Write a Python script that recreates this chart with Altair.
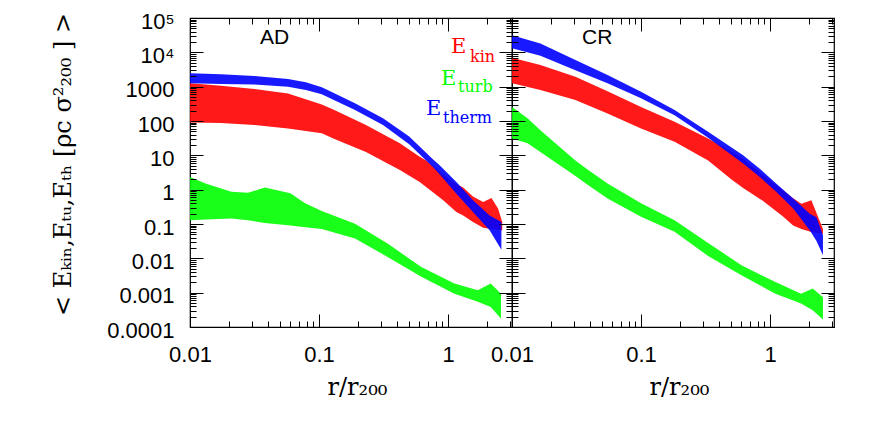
import altair as alt
import pandas as pd

# ---------------- data ----------------
# AD panel
ad_blue_x  = [0.01, 0.0174, 0.0316, 0.0575, 0.079, 0.105, 0.129, 0.19, 0.313, 0.5, 0.766, 0.86, 1.16, 1.56, 2.1, 2.59]
ad_blue_hi = [2450, 2290, 2040, 1660, 1350, 955, 661, 331, 120, 35.5, 7.6, 5.13, 1.66, 0.49, 0.178, 0.115]
ad_blue_lo = [1260, 1200, 1150, 1000, 794, 603, 417, 209, 76, 20.9, 4.47, 2.82, 0.76, 0.224, 0.066, 0.0178]

ad_red_x  = [0.01, 0.0174, 0.0316, 0.0575, 0.105, 0.129, 0.231, 0.423, 0.603, 0.676, 0.912, 1.16, 1.31, 1.56, 1.87, 2.17, 2.44, 2.63]
ad_red_hi = [1260, 1070, 850, 630, 300, 215, 76, 22.4, 9.1, 7.1, 2.82, 1.45, 1.15, 0.63, 0.437, 0.575, 0.282, 0.115]
ad_red_lo = [91, 87, 76, 60, 44, 30.9, 12.6, 3.72, 1.66, 1.2, 0.5, 0.224, 0.178, 0.115, 0.078, 0.071, 0.068, 0.065]

ad_green_x  = [0.01, 0.0132, 0.0209, 0.0282, 0.038, 0.06, 0.078, 0.105, 0.19, 0.34, 0.62, 1.12, 1.7, 2.14, 2.57]
ad_green_hi = [2.34, 1.51, 0.87, 0.81, 1.15, 0.78, 0.40, 0.24, 0.102, 0.0269, 0.0056, 0.00186, 0.00117, 0.00186, 0.00093]
ad_green_lo = [0.129, 0.135, 0.145, 0.129, 0.107, 0.091, 0.081, 0.071, 0.038, 0.011, 0.0029, 0.00093, 0.00054, 0.00038, 0.000178]

# CR panel
cr_blue_x  = [0.01, 0.0166, 0.031, 0.055, 0.1, 0.182, 0.331, 0.618, 0.832, 1.12, 1.51, 2.03, 2.29, 2.57]
cr_blue_hi = [31600, 18200, 6030, 2190, 708, 209, 49, 10, 4.07, 1.48, 0.55, 0.2, 0.158, 0.047]
cr_blue_lo = [13200, 7940, 3020, 1260, 457, 148, 32.4, 5.75, 2.34, 0.85, 0.282, 0.066, 0.032, 0.0123]

cr_red_x  = [0.01, 0.0166, 0.031, 0.055, 0.1, 0.182, 0.331, 0.5, 0.618, 0.883, 1.26, 1.51, 1.75, 2.09, 2.57]
cr_red_hi = [6920, 4270, 1950, 741, 257, 95.5, 30.9, 13, 7.94, 2.63, 0.955, 0.56, 0.39, 0.49, 0.072]
cr_red_lo = [1260, 794, 407, 166, 60, 25, 7.1, 2.0, 1.12, 0.47, 0.166, 0.091, 0.071, 0.058, 0.052]

cr_green_x  = [0.01, 0.0132, 0.0166, 0.031, 0.039, 0.055, 0.1, 0.182, 0.331, 0.6, 1.1, 1.74, 2.14, 2.57]
cr_green_hi = [257, 120, 53.7, 7.08, 3.72, 1.51, 0.40, 0.129, 0.0282, 0.0063, 0.00204, 0.00093, 0.00132, 0.00074]
cr_green_lo = [30.9, 22.4, 12.6, 2.51, 1.35, 0.55, 0.162, 0.059, 0.0117, 0.0032, 0.00093, 0.00048, 0.00031, 0.000166]

# tick values / labels
x_major = [0.01, 0.1, 1]
x_minor = [k * 10.0 ** d for d in (-2, -1) for k in range(2, 10)] + [2, 3]
y_major = [1e-4, 1e-3, 1e-2, 1e-1, 1, 10, 100, 1000, 1e4, 1e5]
y_minor = [k * 10.0 ** d for d in range(-4, 5) for k in range(2, 10)]

panel_names = ["AD", "CR"]
legend_subs = ["kin", "turb", "therm"]
COL = {"green": "#00ff00", "red": "#ff0000", "blue": "#0000ff"}

x_title = "r/r₂₀₀"
y_title = "< Eₖᵢₙ,Eₜᵤ,Eₜₕ  [ρc  σ²₂₀₀ ] >"

W, H = 322, 309
XMAX = 3.13


def df(x, hi, lo):
    return pd.DataFrame({"x": x, "hi": hi, "lo": lo})


def panel(blue, red, green, name, first):
    xs = alt.Scale(type="log", domain=[0.01, XMAX], nice=False)
    ys = alt.Scale(type="log", domain=[1e-4, 1e5], nice=False)
    common = dict(domain=False, grid=False, zindex=1, tickColor="black", tickWidth=1)

    xb_major = alt.Axis(orient="bottom", values=x_major, format="~g", labelFlush=False,
                        labelOverlap=False, tickSize=13, offset=-13, labelPadding=17,
                        title=x_title, titlePadding=10, titleFontSize=24, titleX=W / 2 + 6, **common)
    xb_minor = alt.Axis(orient="bottom", values=x_minor, labels=False, tickSize=6, offset=-6,
                        title=None, **common)
    xt_major = alt.Axis(orient="top", values=x_major, labels=False, tickSize=13, offset=-13,
                        title=None, **common)
    xt_minor = alt.Axis(orient="top", values=x_minor, labels=False, tickSize=6, offset=-6,
                        title=None, **common)

    ylab = dict(format="~g",
                labelExpr="datum.value >= 99999 ? '10⁵' : (datum.value >= 9999 ? '10⁴' : datum.label)",
                labelPadding=16, labelOffset=3, labelOverlap=False, labelFlush=False)
    if first:
        yl_major = alt.Axis(orient="left", values=y_major, tickSize=13, offset=-13,
                            title=y_title, titlePadding=31, titleFontSize=24, titleY=146,
                            **ylab, **common)
    else:
        yl_major = alt.Axis(orient="left", values=y_major, labels=False, tickSize=13, offset=-13,
                            title=None, **common)
    yl_minor = alt.Axis(orient="left", values=y_minor, labels=False, tickSize=6, offset=-6,
                        title=None, **common)
    yr_major = alt.Axis(orient="right", values=y_major, labels=False, tickSize=13, offset=-13,
                        title=None, **common)
    yr_minor = alt.Axis(orient="right", values=y_minor, labels=False, tickSize=6, offset=-6,
                        title=None, **common)

    def area(d, color, xa, ya, opacity=0.9):
        return alt.Chart(d).mark_area(color=color, opacity=opacity, interpolate="linear").encode(
            x=alt.X("x:Q", scale=xs, axis=xa),
            y=alt.Y("hi:Q", scale=ys, axis=ya),
            y2="lo:Q",
        )

    layers = [
        area(green, COL["green"], xb_major, yl_major),
        area(red, COL["red"], xb_minor, yl_minor),
        area(blue, COL["blue"], xt_major, yr_major),
        area(blue, COL["blue"], xt_minor, yr_minor, opacity=0),
        alt.Chart(pd.DataFrame({"t": [name]})).mark_text(
            font="Liberation Sans", fontSize=21, align="left", baseline="alphabetic", color="black"
        ).encode(text="t:N", x=alt.value(70), y=alt.value(26)),
    ]
    if first:
        e_pos = [(261, 35), (251, 67), (236, 97)]
        s_pos = [(280, 44), (268, 74), (253, 105)]
        cols = [COL["red"], COL["green"], COL["blue"]]
        for (ex, ey), (sx, sy), c, s in zip(e_pos, s_pos, cols, legend_subs):
            layers.append(alt.Chart(pd.DataFrame({"t": ["E"]})).mark_text(
                font="DejaVu Serif", fontSize=21, align="left", baseline="alphabetic", color=c
            ).encode(text="t:N", x=alt.value(ex), y=alt.value(ey)))
            layers.append(alt.Chart(pd.DataFrame({"t": [s]})).mark_text(
                font="DejaVu Serif", fontSize=16, align="left", baseline="alphabetic", color=c
            ).encode(text="t:N", x=alt.value(sx), y=alt.value(sy)))

    return alt.layer(*layers).resolve_axis(x="independent", y="independent").properties(width=W, height=H)


left = panel(df(ad_blue_x, ad_blue_hi, ad_blue_lo), df(ad_red_x, ad_red_hi, ad_red_lo),
             df(ad_green_x, ad_green_hi, ad_green_lo), panel_names[0], True)
right = panel(df(cr_blue_x, cr_blue_hi, cr_blue_lo), df(cr_red_x, cr_red_hi, cr_red_lo),
              df(cr_green_x, cr_green_hi, cr_green_lo), panel_names[1], False)

chart = alt.hconcat(left, right, spacing=0, bounds="flush").properties(
    padding={"left": 43, "top": -4, "right": 5, "bottom": 5},
    background="white",
).configure_view(stroke="black", strokeWidth=1.2).configure_axis(
    labelFont="Liberation Sans", labelFontSize=22, labelColor="black",
    titleFont="DejaVu Serif", titleFontSize=22, titleFontWeight="normal", titleColor="black",
)

chart.save("out.html", embed_options={"renderer": "svg", "actions": False})
